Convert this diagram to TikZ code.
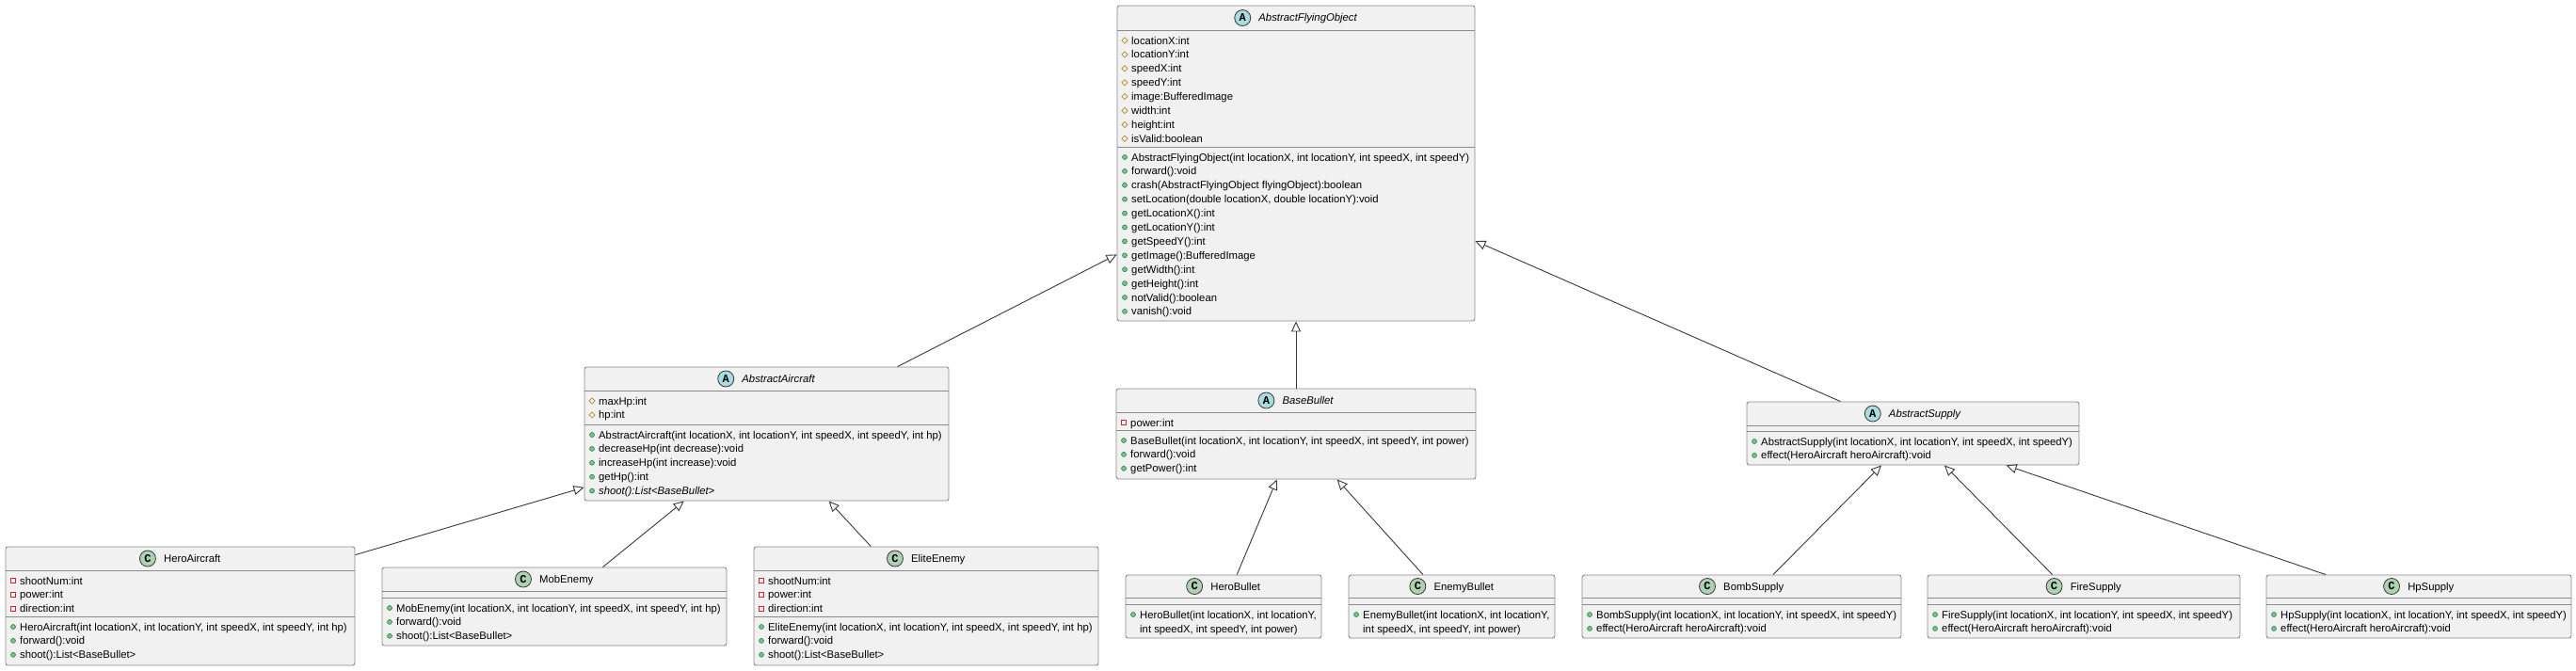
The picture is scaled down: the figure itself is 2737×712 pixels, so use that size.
\documentclass[tikz,border=0pt]{standalone}
\usepackage{fontspec}
\setmainfont{Liberation Sans}
\newfontfamily\spotfont{Liberation Mono}
\usetikzlibrary{arrows.meta, shapes.geometric}

\definecolor{boxFill}{HTML}{F1F1F1}
\definecolor{boxLine}{HTML}{8A8A8A}
\definecolor{lineCol}{HTML}{383838}
\definecolor{abstractSpot}{HTML}{A9DCDF}
\definecolor{classSpot}{HTML}{ADD1B2}
\definecolor{protCol}{HTML}{B38D22}
\definecolor{privCol}{HTML}{C82930}
\definecolor{pubFill}{HTML}{84BE84}
\definecolor{pubEdge}{HTML}{038048}

\newcommand\memberfont{\fontsize{11.3}{14.9}\selectfont}

\tikzset{
    classbox/.style={draw=boxLine, fill=boxFill, line width=0.9pt, rounded corners=2.5pt, inner sep=0pt},
    sepline/.style={draw=boxLine, line width=0.9pt},
    titletext/.style={inner sep=0pt, anchor=base, font=\memberfont},
    member/.style={inner sep=0pt, anchor=base west, font=\memberfont},
    spot/.style={circle, draw=lineCol, line width=0.8pt, minimum size=17pt, inner sep=0pt, font=\spotfont\bfseries\fontsize{12}{12}\selectfont},
    protmark/.style={diamond, draw=protCol, line width=0.7pt, minimum width=6.5pt, minimum height=6.5pt, inner sep=0pt},
    privmark/.style={rectangle, draw=privCol, line width=0.7pt, minimum size=5.5pt, inner sep=0pt},
    pubmark/.style={circle, draw=pubEdge, fill=pubFill, line width=0.5pt, minimum size=5pt, inner sep=0pt},
    extends/.style={draw=lineCol, line width=0.9pt, -{Triangle[open, length=11pt, width=10pt]}}
}

% box with header line and field line: name, left, top, right, bottom, header y, field y
\newcommand\umlbox[7]{%
    \node[classbox, minimum width={(#4-#2)*1pt}, minimum height={(#5-#3)*1pt}] (#1) at ({(#2+#4)/2},{(#3+#5)/2}) {};
    \coordinate (#1-head) at ({(#2+#4)/2},{(#3+#6)/2});
    \draw[sepline] (#2,#6) -- (#4,#6);
    \draw[sepline] (#2,#7) -- (#4,#7);
}

% header: name, letter, spot colour, title
\newcommand\umltitle[4]{%
    \node[titletext] (#1-title) at ([yshift=-4pt]#1-head) {\hspace{25.5pt}#4};
    \node[spot, fill=#3] at ([xshift=8.5pt, yshift=4pt]#1-title.base west) {#2};
}

% member rows: left x, compartment line y, icon style, entries
\newcommand\umlrows[4]{%
    \foreach \entry [count=\k from 0] in {#4}
        \node[#3] at (#1+8, #2+11+\k*14.9) {}
        node[member] at (#1+15, #2+15+\k*14.9) {\entry};
}

\begin{document}
\begin{tikzpicture}[x=1pt, y=-1pt]
    \useasboundingbox (0,0) rectangle (2737,712);

    % AbstractFlyingObject
    \umlbox{afo}{1187}{6}{1567}{341}{32}{156}
    \umltitle{afo}{A}{abstractSpot}{\textit{AbstractFlyingObject}}
    \umlrows{1187}{32}{protmark}{{locationX:int},{locationY:int},{speedX:int},{speedY:int},
        {image:BufferedImage},{width:int},{height:int},{isValid:boolean}}
    \umlrows{1187}{156}{pubmark}{{AbstractFlyingObject(int locationX, int locationY, int speedX, int speedY)},
        {forward():void},{crash(AbstractFlyingObject flyingObject):boolean},
        {setLocation(double locationX, double locationY):void},{getLocationX():int},
        {getLocationY():int},{getSpeedY():int},{getImage():BufferedImage},{getWidth():int},
        {getHeight():int},{notValid():boolean},{vanish():void}}

    % AbstractAircraft
    \umlbox{aa}{621}{390}{1008}{532}{415}{451}
    \umltitle{aa}{A}{abstractSpot}{\textit{AbstractAircraft}}
    \umlrows{621}{415}{protmark}{{maxHp:int},{hp:int}}
    \umlrows{621}{451}{pubmark}{{AbstractAircraft(int locationX, int locationY, int speedX, int speedY, int hp)},
        {decreaseHp(int decrease):void},{increaseHp(int increase):void},{getHp():int},
        {\textit{shoot():List<BaseBullet>}}}

    % BaseBullet
    \umlbox{bb}{1186}{413}{1568}{509}{438}{457}
    \umltitle{bb}{A}{abstractSpot}{\textit{BaseBullet}}
    \umlrows{1186}{438}{privmark}{{power:int}}
    \umlrows{1186}{457}{pubmark}{{BaseBullet(int locationX, int locationY, int speedX, int speedY, int power)},
        {forward():void},{getPower():int}}

    % AbstractSupply
    \umlbox{as}{1856}{427}{2209}{494}{452}{458}
    \umltitle{as}{A}{abstractSpot}{\textit{AbstractSupply}}
    \umlrows{1856}{458}{pubmark}{{AbstractSupply(int locationX, int locationY, int speedX, int speedY)},
        {effect(HeroAircraft heroAircraft):void}}

    % HeroAircraft
    \umlbox{ha}{6}{581}{377}{707}{606}{655}
    \umltitle{ha}{C}{classSpot}{HeroAircraft}
    \umlrows{6}{606}{privmark}{{shootNum:int},{power:int},{direction:int}}
    \umlrows{6}{655}{pubmark}{{HeroAircraft(int locationX, int locationY, int speedX, int speedY, int hp)},
        {forward():void},{shoot():List<BaseBullet>}}

    % MobEnemy
    \umlbox{me}{406}{603}{772}{686}{628}{635}
    \umltitle{me}{C}{classSpot}{MobEnemy}
    \umlrows{406}{635}{pubmark}{{MobEnemy(int locationX, int locationY, int speedX, int speedY, int hp)},
        {forward():void},{shoot():List<BaseBullet>}}

    % EliteEnemy
    \umlbox{ee}{801}{581}{1167}{707}{606}{655}
    \umltitle{ee}{C}{classSpot}{EliteEnemy}
    \umlrows{801}{606}{privmark}{{shootNum:int},{power:int},{direction:int}}
    \umlrows{801}{655}{pubmark}{{EliteEnemy(int locationX, int locationY, int speedX, int speedY, int hp)},
        {forward():void},{shoot():List<BaseBullet>}}

    % HeroBullet and EnemyBullet
    \umlbox{hb}{1196}{611}{1404}{678}{635}{642}
    \umltitle{hb}{C}{classSpot}{HeroBullet}
    \umlrows{1196}{642}{pubmark}{{HeroBullet(int locationX, int locationY,}}
    \node[member] at (1211, 672) {int speedX, int speedY, int power)};

    \umlbox{eb}{1433}{611}{1652}{678}{635}{642}
    \umltitle{eb}{C}{classSpot}{EnemyBullet}
    \umlrows{1433}{642}{pubmark}{{EnemyBullet(int locationX, int locationY,}}
    \node[member] at (1448, 672) {int speedX, int speedY, int power)};

    % supplies
    \umlbox{bs}{1681}{611}{2020}{678}{635}{642}
    \umltitle{bs}{C}{classSpot}{BombSupply}
    \umlrows{1681}{642}{pubmark}{{BombSupply(int locationX, int locationY, int speedX, int speedY)},
        {effect(HeroAircraft heroAircraft):void}}

    \umlbox{fs}{2048}{611}{2380}{678}{635}{642}
    \umltitle{fs}{C}{classSpot}{FireSupply}
    \umlrows{2048}{642}{pubmark}{{FireSupply(int locationX, int locationY, int speedX, int speedY)},
        {effect(HeroAircraft heroAircraft):void}}

    \umlbox{hs}{2408}{611}{2732}{678}{635}{642}
    \umltitle{hs}{C}{classSpot}{HpSupply}
    \umlrows{2408}{642}{pubmark}{{HpSupply(int locationX, int locationY, int speedX, int speedY)},
        {effect(HeroAircraft heroAircraft):void}}

    % Generalisation arrows
    \draw[extends] (aa) -- (afo);
    \draw[extends] (bb) -- (afo);
    \draw[extends] (as) -- (afo);
    \draw[extends] (ha) -- (aa);
    \draw[extends] (me) -- (aa);
    \draw[extends] (ee) -- (aa);
    \draw[extends] (hb) -- (bb);
    \draw[extends] (eb) -- (bb);
    \draw[extends] (bs) -- (as);
    \draw[extends] (fs) -- (as);
    \draw[extends] (hs) -- (as);

\end{tikzpicture}
\end{document}
